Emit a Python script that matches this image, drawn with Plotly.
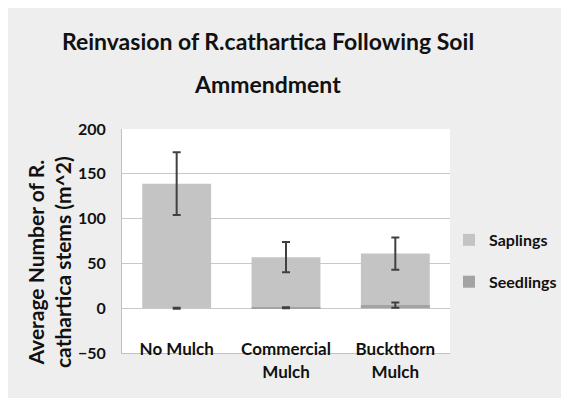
import plotly.graph_objects as go

categories = ["No Mulch", "Commercial<br>Mulch", "Buckthorn<br>Mulch"]
saplings = [139, 57, 61]
saplings_err = [35, 17, 18]
seedlings = [0, 0.5, 3.5]
seedlings_err = [0.5, 0.5, 3]

# page body has an 8px margin, so the figure starts at (8, 8) in the window
OX, OY = 8, 8
W, H = 553, 390
L, R, T, B = 114, 111, 121, 45
pw, ph = W - L - R, H - T - B

def px_x(p):
    return (p - OX - L) / pw

def px_y(p):
    return (H - B - (p - OY)) / ph

font_main = "Lato, 'Open Sans', sans-serif"
ink = "#111111"
err_style = dict(type="data", thickness=2, width=4, color="#404040")

fig = go.Figure()
fig.add_trace(go.Bar(
    x=categories, y=saplings, name="Saplings", legendgroup="saplings",
    marker=dict(color="#c4c4c4", line=dict(width=0)),
    error_y=dict(array=saplings_err, **err_style),
))
fig.add_trace(go.Bar(
    x=categories, y=seedlings, name="Seedlings", legendgroup="seedlings",
    marker=dict(color="#a3a3a3", line=dict(width=0)),
    error_y=dict(array=seedlings_err, **err_style),
))

# second title line sits further down than plotly's line height allows
fig.add_annotation(
    text="Ammendment", xref="paper", yref="paper",
    x=px_x(267), y=px_y(84), xanchor="center", yanchor="middle",
    showarrow=False, font=dict(family=font_main, size=23, color=ink, weight="bold"),
)
fig.add_annotation(
    text="Average Number of R.<br>cathartica stems (m^2)", xref="paper", yref="paper",
    x=px_x(49), y=px_y(262), xanchor="center", yanchor="middle", textangle=-90,
    showarrow=False, font=dict(family=font_main, size=21, color=ink, weight="bold"),
)

fig.update_layout(
    width=W, height=H,
    margin=dict(l=L, r=R, t=T, b=B, autoexpand=False),
    paper_bgcolor="#eeeeee",
    plot_bgcolor="white",
    barmode="overlay",
    bargap=0.37,
    title=dict(
        text="Reinvasion of R.cathartica Following Soil",
        xref="paper", x=px_x(268), xanchor="center",
        y=1 - (42 - OY) / H, yanchor="middle",
        font=dict(family=font_main, size=23, color=ink, weight="bold"),
    ),
    font=dict(family=font_main, color=ink),
    legend=dict(
        x=px_x(449), xanchor="left", y=px_y(261), yanchor="middle",
        bgcolor="rgba(0,0,0,0)", font=dict(size=16, weight="bold"),
        itemwidth=30, tracegroupgap=18,
    ),
    showlegend=True,
)
fig.update_xaxes(
    showline=True, linecolor="#c0c0c0", linewidth=1,
    tickfont=dict(size=17, weight="bold"), ticks="",
    ticklabelstandoff=-19,
)
fig.update_yaxes(
    range=[-50, 200], dtick=50, showgrid=True, gridcolor="#c8c8c8",
    zeroline=True, zerolinecolor="#c8c8c8", zerolinewidth=1,
    showline=True, linecolor="#c0c0c0", linewidth=1,
    tickfont=dict(size=16, weight="bold"), ticks="",
    ticklabelstandoff=12, tickformat="d",
)

fig.write_html("out.html")
